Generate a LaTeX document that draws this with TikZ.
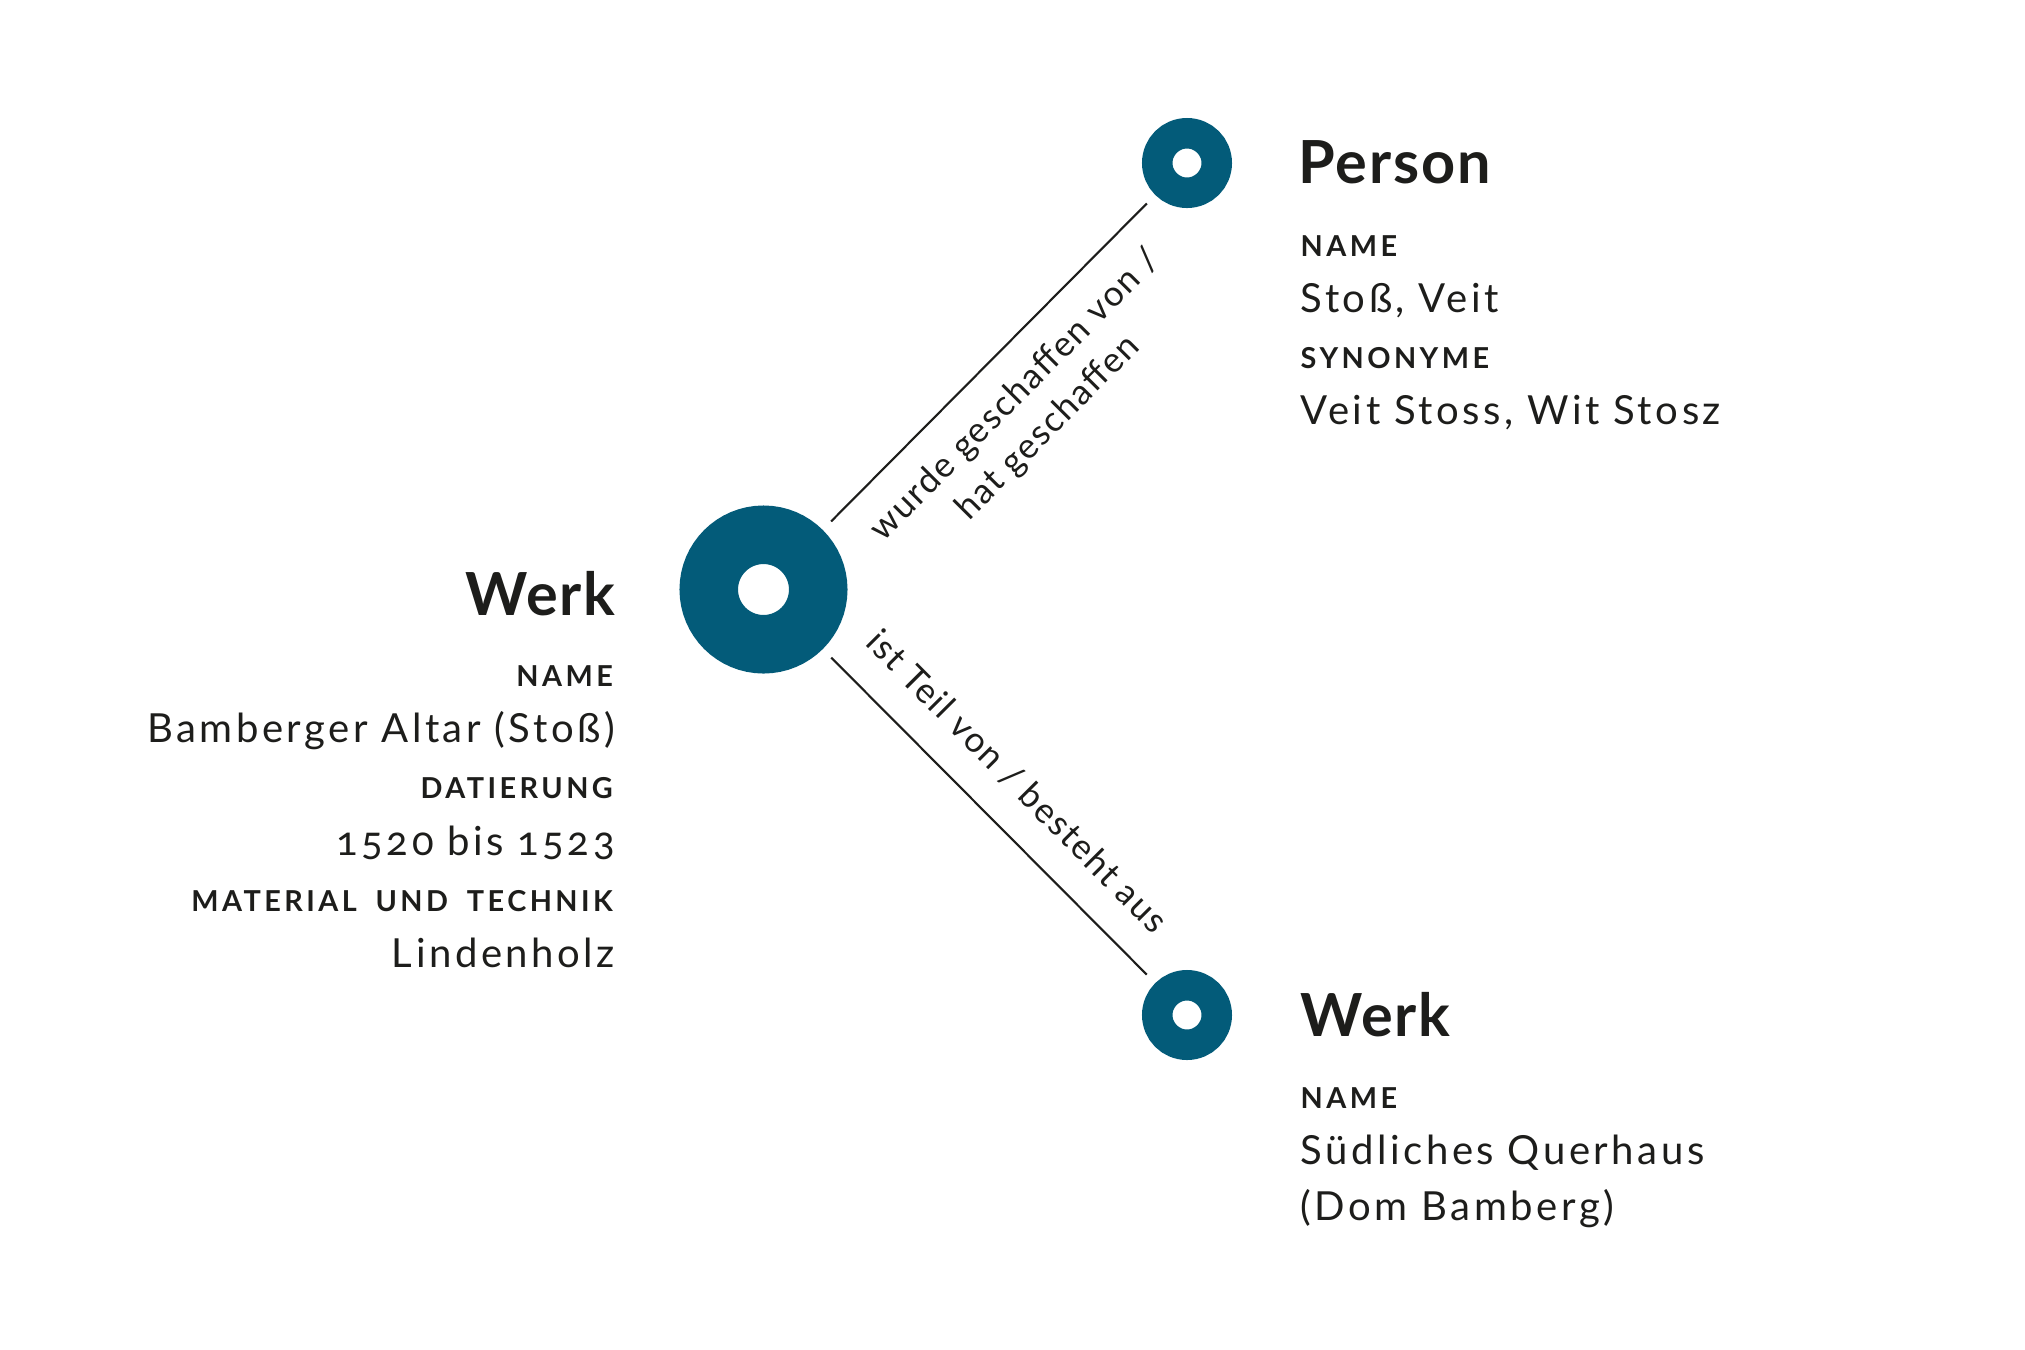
\documentclass[tikz,border=0pt]{standalone}
\usepackage{fontspec}
\setmainfont{Lato}[Numbers=OldStyle]
\newfontfamily\valuefamily{Lato}[Numbers=OldStyle, LetterSpace=8.8]
\newfontfamily\fieldfamily{Lato}[LetterSpace=12, WordSpace=1.8]
\newfontfamily\titlefamily{Lato}[LetterSpace=3]
\newfontfamily\edgefamily{Lato}[LetterSpace=5]
\definecolor{petrol}{HTML}{035B79}
\definecolor{ink}{HTML}{1D1D1B}

\begin{document}
\begin{tikzpicture}[
  ring/.style={circle, draw=petrol, fill=white, inner sep=0pt},
  bigring/.style={ring, line width=5.85mm, minimum size=10.95mm, outer sep=2.925mm},
  smallring/.style={ring, line width=3.05mm, minimum size=5.95mm, outer sep=1.525mm},
  edge/.style={ink, line width=0.6pt, shorten <=1.2mm, shorten >=1.2mm},
  elabel/.style={sloped, inner sep=0pt, text=ink, font=\edgefamily\fontsize{10}{13.1}\selectfont},
  title/.style={inner sep=0pt, text=ink, font=\titlefamily\bfseries\fontsize{16.9}{20}\selectfont},
  field/.style={inner sep=0pt, text=ink, font=\fieldfamily\bfseries\fontsize{8.2}{10}\selectfont},
  value/.style={inner sep=0pt, text=ink, font=\valuefamily\fontsize{11.4}{14}\selectfont}
]
\useasboundingbox (0,0) rectangle (20.25,-13.5);

\node[bigring] (werk) at (7.635,-5.895) {};
\node[smallring] (person) at (11.87,-1.63) {};
\node[smallring] (teil) at (11.87,-10.15) {};

\draw[edge] (werk) -- node[elabel, pos=0.49, anchor=north, yshift=-2.5mm, align=center]
  (rel-person) {wurde geschaffen von /\\hat geschaffen} (person);
\draw[edge] (werk) -- node[elabel, pos=0.49, anchor=base, yshift=3.25mm]
  (rel-teil) {ist Teil von / besteht aus} (teil);

\node[title, anchor=base east] (werk-title) at (6.16,-6.15) {Werk};
\node[field, anchor=base east] (werk-name-key) at (6.135,-6.86) {NAME};
\node[value, anchor=base east] (werk-name) at (6.155,-7.42) {Bamberger Altar (Stoß)};
\node[field, anchor=base east] (werk-date-key) at (6.135,-7.98) {DATIERUNG};
\node[value, anchor=base east] (werk-date) at (6.155,-8.55) {1520 bis 1523};
\node[field, anchor=base east] (werk-mat-key) at (6.135,-9.11) {MATERIAL UND TECHNIK};
\node[value, anchor=base east] (werk-mat) at (6.155,-9.67) {Lindenholz};

\node[title, anchor=base west] (person-title) at (12.98,-1.83) {Person};
\node[field, anchor=base west] (person-name-key) at (13.0,-2.56) {NAME};
\node[value, anchor=base west] (person-name) at (13.0,-3.12) {Stoß, Veit};
\node[field, anchor=base west] (person-syn-key) at (13.0,-3.68) {SYNONYME};
\node[value, anchor=base west] (person-syn) at (13.0,-4.24) {Veit Stoss, Wit Stosz};

\node[title, anchor=base west] (teil-title) at (13.0,-10.36) {Werk};
\node[field, anchor=base west] (teil-name-key) at (13.0,-11.08) {NAME};
\node[value, anchor=base west] (teil-name) at (13.0,-11.64) {Südliches Querhaus};
\node[value, anchor=base west] (teil-name2) at (13.0,-12.20) {(Dom Bamberg)};
\end{tikzpicture}
\end{document}
